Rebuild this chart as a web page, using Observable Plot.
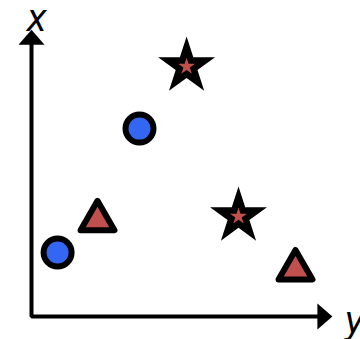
<!DOCTYPE html>
<html>
<head>
<meta charset="utf-8">
<script src="https://cdn.jsdelivr.net/npm/d3@7"></script>
<script src="https://cdn.jsdelivr.net/npm/@observablehq/plot@0.6"></script>
<style>
  html, body { margin: 0; padding: 0; background: #fff; }
  #chart svg { display: block; }
</style>
</head>
<body>
<div id="chart"></div>
<script>
// Points (axis units 0..10)
const shapes = ["circle", "circle", "triangle", "triangle", "star", "star"];
const xVals = [0.87, 3.6, 2.2, 8.8, 5.17, 6.9];
const yVals = [2.24, 6.57, 3.36, 1.64, 8.74, 3.5];
// Axis lines and arrow tips
const axisPath = [[0, 9.6], [0, 0], [9.57, 0]];
const arrowTips = [[0, 10.03, 0], [10.03, 0, 90]];
// Axis labels
const axisLabels = ["x", "y"];
const labelX = [0.17, 10.77];
const labelY = [10.42, -0.14];

const pts = shapes.map((s, i) => ({shape: s, x: xVals[i], y: yVals[i]}));
const circles = pts.filter(d => d.shape === "circle");
const tris = pts.filter(d => d.shape === "triangle");
const stars = pts.filter(d => d.shape === "star");
const lineData = axisPath.map(([x, y]) => ({x, y}));
const tips = arrowTips.map(([x, y, r]) => ({x, y, r}));
const labels = axisLabels.map((t, i) => ({t, x: labelX[i], y: labelY[i]}));

const arrowHead = {
  draw(ctx) {
    ctx.moveTo(0, 0);
    ctx.lineTo(-13, 15);
    ctx.lineTo(13, 15);
    ctx.closePath();
  }
};

const blue = "#3366f2";
const red = "#c0504d";

const chart = Plot.plot({
  width: 360,
  height: 339,
  margin: 0,
  x: {domain: [0, 10], range: [31, 331], axis: null},
  y: {domain: [0, 10], range: [316, 30], axis: null},
  marks: [
    Plot.line(lineData, {x: "x", y: "y", stroke: "black", strokeWidth: 4, strokeLinejoin: "miter", strokeLinecap: "square"}),
    Plot.dot(tips, {x: "x", y: "y", symbol: arrowHead, rotate: "r", fill: "black", stroke: "none"}),
    Plot.dot(circles, {x: "x", y: "y", symbol: "circle", r: 14, fill: blue, stroke: "black", strokeWidth: 6}),
    Plot.dot(tris, {x: "x", y: "y", symbol: "triangle", r: 12.6, fill: red, stroke: "black", strokeWidth: 6, strokeLinejoin: "round"}),
    Plot.dot(stars, {x: "x", y: "y", symbol: "star", r: 17.9, fill: "black", stroke: "none"}),
    Plot.dot(stars, {x: "x", y: "y", symbol: "star", r: 5.3, fill: red, stroke: "none"}),
    Plot.text(labels, {x: "x", y: "y", text: "t", fontSize: 38, fontStyle: "italic", fill: "black",
      fontFamily: "'Liberation Sans Narrow', 'DejaVu Sans Condensed', sans-serif"})
  ]
});
document.getElementById("chart").appendChild(chart);
</script>
</body>
</html>
